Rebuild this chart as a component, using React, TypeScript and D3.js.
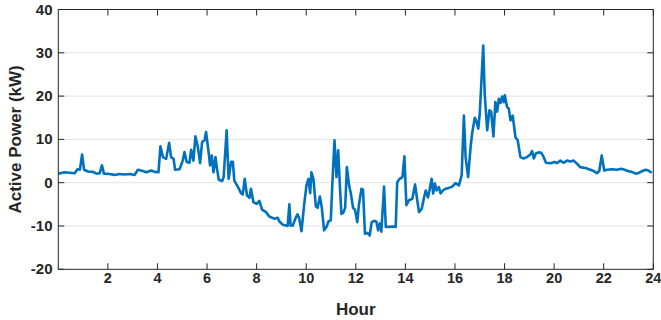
import React from "react";
import * as d3 from "d3";

const hours: number[] = [
  0, 0.26, 0.46, 0.66, 0.77, 0.87, 0.96, 1.04, 1.2, 1.4, 1.54, 1.67, 1.76, 1.84, 2.06, 2.27, 2.47, 2.68, 2.88, 3.08,
  3.21, 3.41, 3.55, 3.75, 3.88, 4.04, 4.12, 4.22, 4.35, 4.47, 4.55, 4.65, 4.71, 4.89,
  5.02, 5.09, 5.18, 5.29, 5.36, 5.45, 5.53, 5.63, 5.72, 5.8, 5.9, 5.96, 6.07, 6.12, 6.19, 6.26, 6.34, 6.4, 6.47, 6.61,
  6.67, 6.79, 6.87, 6.97, 7.04, 7.1, 7.24, 7.37, 7.44, 7.52, 7.61, 7.71, 7.77, 7.87, 8.0, 8.11, 8.22, 8.38, 8.51, 8.71,
  8.85, 8.91, 9.05, 9.18, 9.25, 9.32, 9.37, 9.46, 9.56, 9.65, 9.72, 9.81, 9.92, 10.01, 10.09, 10.16, 10.21, 10.29,
  10.39, 10.46, 10.55, 10.63, 10.72, 10.82, 10.9, 10.99, 11.06, 11.14, 11.22, 11.29, 11.36, 11.42, 11.5, 11.57, 11.64,
  11.73, 11.8, 11.89, 11.97, 12.06, 12.13, 12.23, 12.29, 12.37, 12.47, 12.56, 12.64, 12.74, 12.83, 12.9, 12.97, 13.03,
  13.14, 13.21, 13.34, 13.47, 13.61, 13.67, 13.77, 13.88, 13.96, 14.04, 14.14, 14.28, 14.39, 14.48, 14.55, 14.66, 14.75,
  14.82, 14.91, 14.97, 15.06, 15.12, 15.19, 15.26, 15.35, 15.42, 15.51, 15.62, 15.75, 15.89, 16.02, 16.16, 16.27, 16.36,
  16.43, 16.53, 16.63, 16.69, 16.8, 16.86, 16.94, 17.0, 17.14, 17.2, 17.3, 17.39, 17.46, 17.55, 17.63, 17.7, 17.77,
  17.84, 17.9, 17.97, 18.01, 18.1, 18.17, 18.24, 18.33, 18.44, 18.53, 18.64, 18.77, 18.9, 19.04, 19.11, 19.18, 19.27,
  19.38, 19.48, 19.58, 19.67, 19.85, 20.02, 20.11, 20.25, 20.38, 20.52, 20.65, 20.79, 20.92, 21.05, 21.26, 21.46, 21.59,
  21.72, 21.82, 21.92, 22.02, 22.13, 22.33, 22.53, 22.71, 22.84, 22.97, 23.13, 23.29, 23.39, 23.56, 23.69, 23.8, 23.94,
];

const power: number[] = [
  2.1, 2.4, 2.3, 2.2, 3.1, 3.0, 6.5, 3.0, 2.6, 2.5, 2.1, 2.2, 4.0, 2.1, 2.0, 1.8, 2.0, 1.9, 2.0, 1.8,
  3.0, 2.7, 2.4, 2.8, 2.5, 2.4, 8.4, 5.9, 5.5, 9.2, 5.9, 5.5, 3.0, 3.1,
  5.1, 7.1, 4.8, 4.6, 7.6, 5.1, 10.7, 8.2, 4.5, 9.4, 9.8, 11.7, 6.7, 4.0, 6.3, 2.4, 5.9, 3.3, 0.7, 0.4,
  1.3, 12.1, 0.9, 4.8, 4.8, 0.5, -0.9, -2.4, -2.7, 0.9, -2.9, -3.5, -1.4, -4.5, -4.9, -4.2, -6.2, -6.8, -7.8, -8.3,
  -8.1, -8.9, -9.7, -9.9, -10, -5.0, -9.9, -9.9, -8.3, -7.3, -8.3, -11.2, -4.9, -0.6, 0.9, -2.4, 2.4, 0.9,
  -5.5, -5.8, -3.2, -5.8, -11, -10.2, -8.9, -8.7, 0.5, 9.8, 1.3, 7.5, -1.0, -7.2, -6.9, -5.8, 3.6,
  -0.6, -2.5, -5.8, -6.3, -9.1, -4.9, -1.4, -1.6, -11.8, -11.6, -12.2, -9.1, -8.8, -9.0, -11, -9.4, -11.3,
  -0.9, -10.2, -10.2, -10.1, -10.2, 0.1, 0.9, 1.3, 6.1, -5.2, -4.1, -3.7, -0.4, -4.1, -6.8, -6.0, -3.5,
  -1.8, -3.4, -1.8, 0.9, -2.5, -0.2, -1.8, -1.0, -2.5, -1.8, -1.4, -1.2, -0.9, -0.1, -0.6, 1.7, 15.5,
  5.9, 1.3, 8.2, 11.3, 15, 14.3, 12.5, 15.9, 31.7, 20.5, 12.1, 16.7, 16.4, 10.7, 18.6, 16.4, 19.4,
  18.4, 19.9, 18.6, 20.2, 17.5, 17.1, 14.4, 15.5, 10.5, 9.8, 5.9, 5.6, 5.9, 6.5, 7.3, 5.6, 6.8,
  7.0, 6.9, 5.9, 4.6, 4.5, 4.8, 4.5, 5.1, 4.6, 5.1, 4.9, 5.1, 4.4, 3.6, 3.4, 3.0, 2.7,
  2.2, 2.7, 6.3, 2.8, 3.0, 3.1, 3.0, 3.2, 3.0, 2.7, 2.5, 2.1, 2.2, 2.7, 3.0, 2.8, 2.3,
];

const xTicks: number[] = [2, 4, 6, 8, 10, 12, 14, 16, 18, 20, 22, 24];
const yTicks: number[] = [-20, -10, 0, 10, 20, 30, 40];
const xTitle = "Hour";
const yTitle = "Active Power (kW)";

const W = 661;
const H = 320;
const L = 58.3;
const R = 653.3;
const T = 9.5;
const B = 269.3;
const txt = "#262626";
const font = "'Liberation Sans', Arial, sans-serif";

export default function App() {
  const x = d3.scaleLinear().domain([0, 24]).range([L, R]);
  const y = d3.scaleLinear().domain([-20, 40]).range([B, T]);
  const pts = hours.map((h, i) => [h, power[i]] as [number, number]);
  const line = d3
    .line<[number, number]>()
    .x((d) => x(d[0]))
    .y((d) => y(d[1]));
  const tl = 6;
  return (
    <svg
      width={W}
      height={H}
      style={{ position: "absolute", left: 0, top: 0, display: "block", background: "#fff" }}
      fontFamily={font}
    >
      <rect x={0} y={0} width={W} height={H} fill="#fff" />
      {yTicks
        .filter((v) => v > -20 && v < 40)
        .map((v) => (
          <line key={"g" + v} x1={L} x2={R} y1={y(v)} y2={y(v)} stroke="#e3e3e3" strokeWidth={1} />
        ))}
      <path d={line(pts) || ""} fill="none" stroke="#0072BD" strokeWidth={2.6} strokeLinejoin="round" />
      <rect x={L} y={T} width={R - L} height={B - T} fill="none" stroke={txt} strokeWidth={1} />
      {xTicks.map((v) => (
        <g key={"x" + v}>
          <line x1={x(v)} x2={x(v)} y1={B} y2={B - tl} stroke={txt} />
          <line x1={x(v)} x2={x(v)} y1={T} y2={T + tl} stroke={txt} />
          <text x={x(v)} y={283} textAnchor="middle" fontSize={14.5} fontWeight="bold" fill={txt}>
            {v}
          </text>
        </g>
      ))}
      {yTicks.map((v) => (
        <g key={"y" + v}>
          <line x1={L} x2={L + tl} y1={y(v)} y2={y(v)} stroke={txt} />
          <line x1={R} x2={R - tl} y1={y(v)} y2={y(v)} stroke={txt} />
          <text x={52.5} y={y(v) + 5} textAnchor="end" fontSize={15} fontWeight="bold" fill={txt}>
            {v}
          </text>
        </g>
      ))}
      <text x={(L + R) / 2} y={315} textAnchor="middle" fontSize={17} fontWeight="bold" fill={txt}>
        {xTitle}
      </text>
      <text
        transform={`translate(20.5,${(T + B) / 2}) rotate(-90)`}
        textAnchor="middle"
        fontSize={17}
        fontWeight="bold"
        fill={txt}
      >
        {yTitle}
      </text>
    </svg>
  );
}
